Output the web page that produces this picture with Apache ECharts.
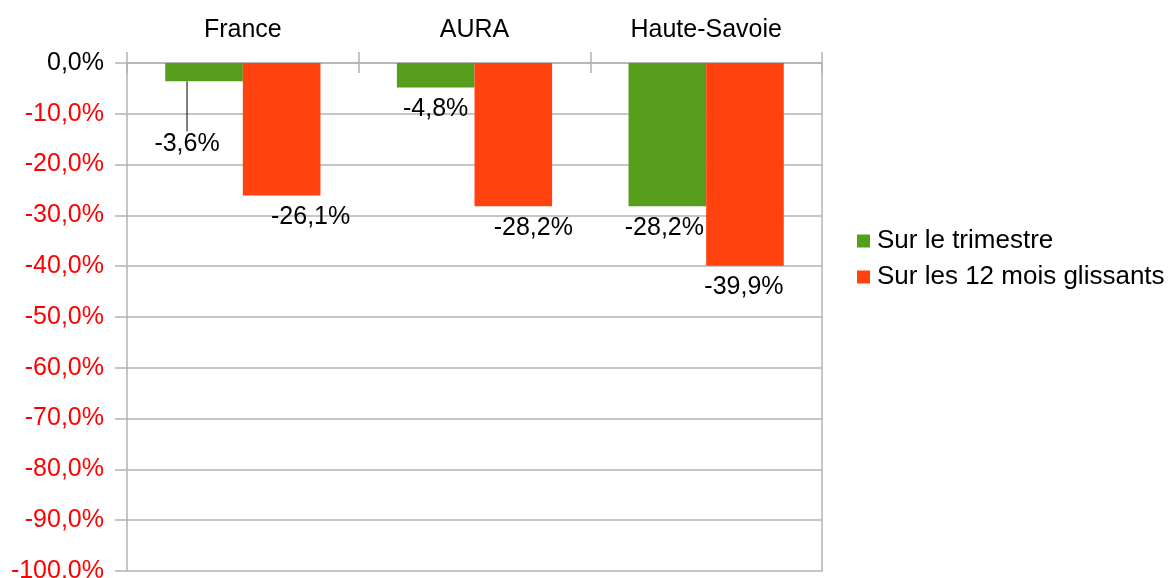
<!DOCTYPE html>
<html lang="fr" style="height: 100%">

<head>
  <meta charset="utf-8" />
</head>

<body style="height: 100%; margin: 0; background: #fff">
  <div id="container" style="width: 1174px; height: 578px"></div>

  <script type="text/javascript" src="https://cdn.jsdelivr.net/npm/echarts@6/dist/echarts.min.js"></script>

  <script type="text/javascript">
    // chart data
    var zones = ["France", "AURA", "Haute-Savoie"];
    var seriesNames = ["Sur le trimestre", "Sur les 12 mois glissants"];
    var trimestre = [-3.6, -4.8, -28.2];
    var douzeMois = [-26.1, -28.2, -39.9];

    // label nudges (px) as placed in the original, [series][point] -> [dx, dy]
    var labelShift = [
      [[-17, 41], [0, 0], [-3, 0]],
      [[29, 0], [20, 0], [-1, 0]],
    ];

    var FONT = "Liberation Sans";
    var FS = 25;
    var GRAY = "#b3b3b3";

    function fmt(v) {
      return v.toFixed(1).replace(".", ",") + "%";
    }

    var dom = document.getElementById("container");
    var myChart = echarts.init(dom, null, { renderer: "canvas" });

    function barSeries(name, values, color, idx) {
      return {
        name: name,
        type: "bar",
        xAxisIndex: 0,
        yAxisIndex: 0,
        barGap: "0%",
        barCategoryGap: "33%",
        itemStyle: { color: color },
        data: values.map(function (v, i) {
          var item = { value: v };
          if (idx === 0 && i === 0) {
            item.labelLine = { show: true, lineStyle: { color: "#000", width: 1 } };
          }
          return item;
        }),
        label: {
          show: true,
          position: "bottom",
          distance: 9,
          color: "#000",
          fontFamily: FONT,
          fontSize: FS,
          formatter: function (p) { return fmt(p.value); },
        },
        labelLayout: function (p) {
          var s = labelShift[idx][p.dataIndex];
          return { dx: s[0], dy: s[1] };
        },
        animation: false,
      };
    }

    var option = {
      backgroundColor: "#fff",
      textStyle: { fontFamily: FONT },
      grid: { left: 127, right: 352, top: 63, bottom: 7, containLabel: false, outerBoundsMode: "none" },
      legend: {
        orient: "vertical",
        left: 857,
        top: 228,
        padding: 0,
        icon: "rect",
        itemWidth: 13,
        itemHeight: 13,
        itemGap: 10,
        textStyle: { color: "#000", fontSize: 26, fontFamily: FONT, padding: [0, 0, 0, 2] },
        data: seriesNames,
      },
      xAxis: [
        {
          type: "category",
          position: "top",
          data: zones,
          axisLine: { show: true, lineStyle: { color: GRAY, width: 1.5 } },
          axisTick: { show: true, inside: false, length: 11, lineStyle: { color: GRAY, width: 1.5 } },
          axisLabel: { color: "#000", fontSize: FS, fontFamily: FONT, margin: 20 },
          splitLine: { show: false },
        },
        {
          type: "category",
          position: "top",
          data: zones,
          axisLine: { show: false },
          axisTick: { show: true, inside: true, length: 10, lineStyle: { color: GRAY, width: 1.5 } },
          axisLabel: { show: false },
        },
      ],
      yAxis: [
        {
          type: "value",
          min: -100,
          max: 0,
          interval: 10,
          axisLine: { show: true, lineStyle: { color: GRAY, width: 1.5 } },
          axisTick: { show: true, length: 12, lineStyle: { color: GRAY, width: 1.5 } },
          splitLine: { show: true, lineStyle: { color: GRAY, width: 1.5 } },
          axisLabel: {
            margin: 23,
            fontSize: FS,
            fontFamily: FONT,
            formatter: function (v) {
              return v === 0 ? "{z|" + fmt(v) + "}" : "{n|" + fmt(v) + "}";
            },
            rich: {
              z: { color: "#000", fontSize: FS, fontFamily: FONT },
              n: { color: "#ff0000", fontSize: FS, fontFamily: FONT },
            },
          },
        },
        {
          type: "value",
          position: "right",
          min: -100,
          max: 0,
          interval: 10,
          axisLine: { show: true, lineStyle: { color: GRAY, width: 1.5 } },
          axisTick: { show: false },
          axisLabel: { show: false },
          splitLine: { show: false },
        },
      ],
      series: [
        barSeries(seriesNames[0], trimestre, "#579d1c", 0),
        barSeries(seriesNames[1], douzeMois, "#ff420e", 1),
      ],
    };

    myChart.setOption(option);
    window.addEventListener("resize", myChart.resize);
  </script>
</body>

</html>
